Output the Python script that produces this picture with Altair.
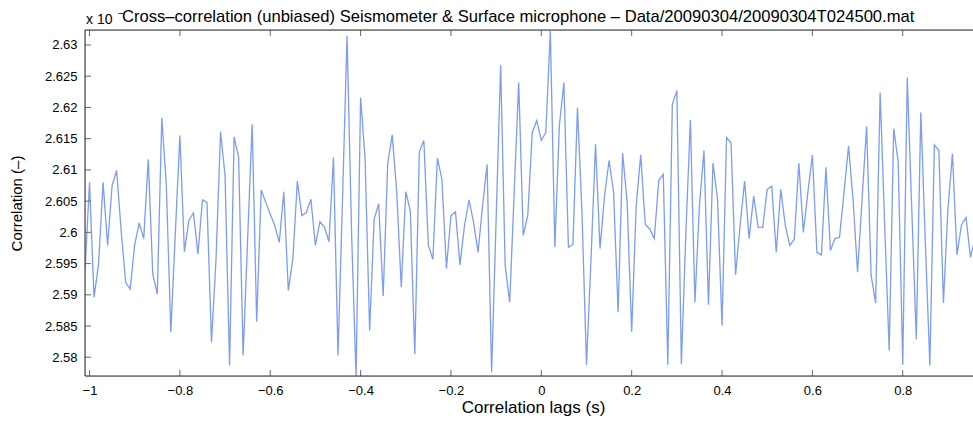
import altair as alt
import pandas as pd

# Cross-correlation values (x 10^-?), one per lag step of 0.01 s starting at -1.01 s
corr_values = [
    2.5939, 2.6080, 2.5896, 2.5949, 2.6080, 2.5979, 2.6075, 2.6099, 2.6003, 2.5920,
    2.5909, 2.5980, 2.6015, 2.5990, 2.6117, 2.5933, 2.5901, 2.6183, 2.6075, 2.5841,
    2.6000, 2.6155, 2.5969, 2.6019, 2.6031, 2.5965, 2.6052, 2.6048, 2.5824, 2.5957,
    2.6161, 2.6091, 2.5787, 2.6153, 2.6120, 2.5803, 2.5990, 2.6173, 2.5857, 2.6068,
    2.6048, 2.6029, 2.6011, 2.5984, 2.6065, 2.5907, 2.5957, 2.6082, 2.6027, 2.6032,
    2.6053, 2.5979, 2.6017, 2.6008, 2.5985, 2.6120, 2.5803, 2.6053, 2.6315, 2.6000,
    2.5769, 2.6216, 2.6117, 2.5843, 2.6021, 2.6046, 2.5898, 2.6110, 2.6156, 2.6064,
    2.5912, 2.6065, 2.6035, 2.5805, 2.6129, 2.6147, 2.5979, 2.5957, 2.6119, 2.6085,
    2.5942, 2.6027, 2.6033, 2.5948, 2.6011, 2.6052, 2.6016, 2.5968, 2.6043, 2.6109,
    2.5776, 2.6021, 2.6268, 2.5947, 2.5888, 2.6064, 2.6240, 2.5995, 2.6027, 2.6160,
    2.6179, 2.6147, 2.6160, 2.6323, 2.5976, 2.6171, 2.6240, 2.5976, 2.5981, 2.6200,
    2.6032, 2.5788, 2.5957, 2.6141, 2.5974, 2.6059, 2.6115, 2.6064, 2.5872, 2.6127,
    2.6048, 2.5841, 2.6043, 2.6124, 2.6013, 2.6005, 2.5990, 2.6083, 2.6093, 2.5788,
    2.6205, 2.6227, 2.5789, 2.6000, 2.6180, 2.5888, 2.6043, 2.6131, 2.5884, 2.6111,
    2.6053, 2.5851, 2.6152, 2.6143, 2.5932, 2.6011, 2.6082, 2.5990, 2.6058, 2.6008,
    2.6008, 2.6069, 2.6074, 2.5968, 2.6069, 2.6011, 2.5979, 2.5989, 2.6111, 2.6000,
    2.6064, 2.6124, 2.5968, 2.5964, 2.6104, 2.5971, 2.5990, 2.5992, 2.6064, 2.6138,
    2.6053, 2.5936, 2.6053, 2.6170, 2.5931, 2.5887, 2.6224, 2.6011, 2.5811, 2.6166,
    2.6112, 2.5788, 2.6248, 2.6037, 2.5829, 2.6192, 2.5984, 2.5787, 2.6140, 2.6131,
    2.5887, 2.6037, 2.6126, 2.5964, 2.6012, 2.6024, 2.5960, 2.5990,
]
lags = [round(-1.01 + 0.01 * i, 2) for i in range(len(corr_values))]

x_ticks = [-1.0, -0.8, -0.6, -0.4, -0.2, 0.0, 0.2, 0.4, 0.6, 0.8, 1.0]
y_ticks = [2.58, 2.585, 2.59, 2.595, 2.6, 2.605, 2.61, 2.615, 2.62, 2.625, 2.63]

title_text = "Cross\u2013correlation (unbiased) Seismometer & Surface microphone \u2013 Data/20090304/20090304T024500.mat"
x_title = "Correlation lags (s)"
y_title = "Correlation (\u2013)"

W, H = 888, 346
FONT = "Liberation Sans"
LINE_COLOR = "#7c9cf5"
FRAME = "#2b2b2b"
TICK = "#6a6a6a"

df = pd.DataFrame({"lag": lags, "corr": corr_values})
xs = alt.Scale(domain=[-1.01, 0.9555], nice=False, zero=False)
ys = alt.Scale(domain=[2.577, 2.6324], nice=False, zero=False)

x_axis = alt.Axis(
    values=x_ticks, format="~g", title=x_title, grid=False, ticks=False, domain=False,
    labelFont=FONT, labelFontSize=13, labelColor="black", labelPadding=8,
    labelFlush=False, labelOverlap=False,
    titleFont=FONT, titleFontSize=17, titleFontWeight="normal", titleColor="black",
    titleX=448, titleY=36, titleBaseline="alphabetic", titleAlign="center")
y_axis = alt.Axis(
    values=y_ticks, format="~g", title=y_title, grid=False, ticks=False, domain=False,
    labelFont=FONT, labelFontSize=13, labelColor="black", labelPadding=8,
    labelFlush=False, labelOverlap=False,
    titleFont=FONT, titleFontSize=15, titleFontWeight="normal", titleColor="black",
    titleX=-64, titleY=H / 2, titleAngle=-90, titleBaseline="alphabetic", titleAlign="center")

line = alt.Chart(df).mark_line(color=LINE_COLOR, strokeWidth=1.3, clip=True).encode(
    x=alt.X("lag:Q", scale=xs, axis=x_axis),
    y=alt.Y("corr:Q", scale=ys, axis=y_axis),
)

xt = pd.DataFrame({"t": x_ticks})
yt = pd.DataFrame({"t": y_ticks})

bottom_ticks = alt.Chart(xt).mark_rule(color=TICK, strokeWidth=1, clip=True).encode(
    x=alt.X("t:Q", scale=xs, axis=x_axis), y=alt.value(H), y2=alt.value(H - 6))
top_ticks = alt.Chart(xt).mark_rule(color=TICK, strokeWidth=1, clip=True).encode(
    x=alt.X("t:Q", scale=xs, axis=x_axis), y=alt.value(0), y2=alt.value(6))
left_ticks = alt.Chart(yt).mark_rule(color=TICK, strokeWidth=1, clip=True).encode(
    y=alt.Y("t:Q", scale=ys, axis=y_axis), x=alt.value(0), x2=alt.value(6))

frame_top = alt.Chart(pd.DataFrame({"k": ["top"]})).mark_rule(color=FRAME, strokeWidth=1).encode(
    x=alt.value(0), x2=alt.value(W), y=alt.value(0))
frame_bottom = alt.Chart(pd.DataFrame({"k": ["bottom"]})).mark_rule(color=FRAME, strokeWidth=1).encode(
    x=alt.value(0), x2=alt.value(W), y=alt.value(H))
frame_left = alt.Chart(pd.DataFrame({"k": ["left"]})).mark_rule(color=FRAME, strokeWidth=1).encode(
    x=alt.value(0), y=alt.value(0), y2=alt.value(H))

exp_label = alt.Chart(pd.DataFrame({"s": ["x 10"]})).mark_text(
    font=FONT, fontSize=14, align="left", baseline="alphabetic", color="black").encode(
    text="s:N", x=alt.value(1), y=alt.value(-6))
exp_sup = alt.Chart(pd.DataFrame({"s": ["\u2212"]})).mark_text(
    font=FONT, fontSize=10, align="left", baseline="alphabetic", color="black").encode(
    text="s:N", x=alt.value(33), y=alt.value(-13))
title_mark = alt.Chart(pd.DataFrame({"s": [title_text]})).mark_text(
    font=FONT, fontSize=16.6, align="left", baseline="alphabetic", color="black").encode(
    text="s:N", x=alt.value(37), y=alt.value(-8))

chart = alt.layer(
    line, bottom_ticks, top_ticks, left_ticks, frame_top, frame_bottom, frame_left,
    exp_label, exp_sup, title_mark,
).properties(
    width=W, height=H,
    padding={"left": 85, "top": 30, "right": 0, "bottom": 45},
    autosize=alt.AutoSizeParams(type="none"),
).configure_view(stroke=None).configure(background="white")

chart.save("out.html", embed_options={"renderer": "svg", "actions": False})
